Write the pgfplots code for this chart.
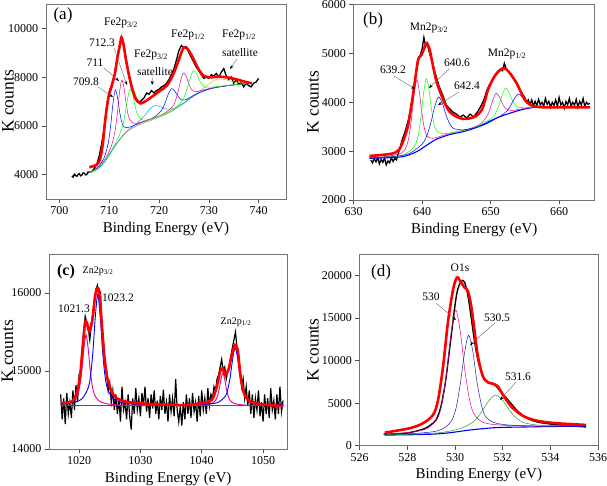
\documentclass[border=0pt]{standalone}
\usepackage{fontspec}
\setmainfont{Liberation Serif}
\usepackage{pgfplots}
\pgfplotsset{compat=1.18}
\usetikzlibrary{arrows.meta}
\definecolor{olivey}{RGB}{190,190,40}
\definecolor{navyb}{RGB}{30,30,150}
\definecolor{dgreen}{RGB}{40,150,40}
\pgfplotsset{xps/.style={scale only axis, anchor=south west,
  axis line style={draw=black!55, line width=0.9pt},
  tick style={black!70, line width=0.5pt}, tick align=outside,
  xtick pos=bottom, ytick pos=left,
  tick label style={font=\fontsize{12}{14}\selectfont},
  x label style={font=\fontsize{15}{17}\selectfont},
  y label style={font=\fontsize{17.5}{19}\selectfont, anchor=center},
  /pgf/number format/assume math mode=true,
  /pgf/number format/set thousands separator={},
  scaled ticks=false,
  xlabel={Binding Energy (eV)}, ylabel={K counts},
  clip=true}}
\tikzset{ann/.style={font=\fontsize{11.5}{13}\selectfont, inner sep=0pt},
  arr/.style={draw=black!60, line width=0.4pt, -{Stealth[black,length=4pt,width=3pt]}}}
\begin{document}
\begin{tikzpicture}[x=1pt,y=1pt]
\path[use as bounding box] (0,0) rectangle (607,485);
% ---------------- (a)
\begin{axis}[xps, at={(46pt,286pt)}, width=240pt, height=195pt,
  xmin=697.3, xmax=745.5, ymin=3000, ymax=11000,
  xtick={700,710,...,740}, ytick={4000,6000,8000,10000},
  y label style={at={(axis description cs:-0.158,0.5)}}]
\addplot[black, line width=1.3pt] coordinates {(702.5,3950)(702.75,3900)(703.0,4020)(703.25,3960)(703.5,3930)(703.75,4010)(704.0,4040)(704.25,3950)(704.5,3980)(704.75,4070)(705.0,4060)(705.25,3990)(705.5,4000)(705.75,4110)(706.0,4090)(706.5,4120)(707.0,4260)(707.5,4420)(708.0,4780)(708.5,5300)(709.0,5950)(709.5,6750)(710.0,7400)(710.5,7700)(711.0,8050)(711.5,8650)(712.0,9250)(712.5,9650)(713.0,9250)(713.5,8600)(714.0,8000)(714.5,7550)(715.0,7200)(715.5,7000)(716.0,6950)(716.5,7050)(717.0,7150)(717.5,7350)(718.0,7300)(718.5,7450)(719.0,7350)(719.5,7450)(720.0,7500)(720.5,7600)(721.0,7650)(721.5,7750)(722.0,7900)(722.5,8100)(723.0,8350)(723.5,8700)(724.0,9100)(724.5,9300)(725.0,9200)(725.5,9250)(726.0,9000)(726.5,8800)(727.0,8600)(727.5,8400)(728.0,8250)(728.5,8100)(729.0,7950)(729.5,8000)(730.0,7950)(730.5,8100)(731.0,8050)(731.5,8150)(732.0,8000)(732.5,8200)(733.0,8350)(733.5,8050)(734.0,7900)(734.5,8000)(735.0,7750)(735.5,7900)(736.0,7700)(736.5,7800)(737.0,7600)(737.5,7750)(738.0,7650)(738.5,7600)(739.0,7750)(739.5,7800)(740.0,7950)};
\addplot[blue!60, line width=0.4pt, smooth] coordinates {(706,4080)(707,4150)(708,4280)(709,4500)(710,4800)(711,5120)(712,5400)(713,5650)(714,5830)(715,5950)(716,6050)(717,6130)(718,6200)(719,6280)(720,6360)(721,6440)(722,6540)(723,6650)(724,6780)(725,6920)(726,7080)(727,7220)(728,7340)(729,7430)(730,7500)(732,7590)(734,7650)(736,7700)(738.6,7750)};
\addplot[olivey, line width=0.5pt, smooth] coordinates {(706,4080)(707,4150)(708,4280)(709,4500)(710,4800)(711,5120)(712,5400)(713,5650)(714,5830)(715,5950)(716,6050)(717,6130)(718,6200)(720,6367)(722,6560)(724,6797)(726,7110)(728,7417)(729.5,7633)(730.75,7825)(732,7925)(733.25,7900)(734.5,7828)(736,7777)(738.6,7782)};
\addplot[cyan, line width=0.5pt, smooth] coordinates {(706,4085)(707,4150)(708,4282)(709,4503)(710,4814)(711,5130)(712,5415)(713,5677)(714,5870)(715,6022)(716,6193)(717,6405)(718,6651)(719,6830)(720,6811)(721,6715)(722,6683)(723,6722)(725,6947)(726,7085)(728,7354)(730,7505)(732,7595)(735,7680)(738.6,7755)};
\addplot[blue, line width=0.5pt, smooth] coordinates {(706,4114)(707,4200)(708,4372)(709,4706)(709.8,5290)(710.3,6045)(710.75,6913)(711.2,7470)(711.65,7178)(712.1,6570)(712.55,6135)(713,5948)(714,5945)(715,6019)(717,6188)(719,6356)(720.5,6640)(721.2,6935)(721.85,7297)(722.5,7530)(723.15,7427)(723.8,7218)(724.5,7069)(725.5,7084)(727,7257)(730,7514)(734,7660)(738.6,7755)};
\addplot[magenta, line width=0.5pt, smooth] coordinates {(706,4104)(707,4210)(708,4327)(709.5,4746)(710.5,5219)(711.15,5772)(711.6,6467)(712.05,7340)(712.5,7884)(712.95,7570)(713.4,6907)(713.85,6412)(714.5,6149)(715.5,6106)(717,6190)(719,6327)(721,6506)(722.7,6785)(723.25,7010)(723.8,7385)(724.35,7871)(724.9,8170)(725.45,8031)(726,7715)(726.55,7480)(727.5,7407)(729,7481)(732,7607)(735,7680)(738.6,7755)};
\addplot[green, line width=0.5pt, smooth] coordinates {(706,4093)(707,4170)(708,4303)(709,4530)(710,4850)(711.5,5368)(712.7,6010)(713.2,6518)(713.7,7137)(714.2,7515)(714.7,7277)(715.2,6803)(715.7,6450)(716.7,6242)(718,6268)(720,6402)(722,6587)(723.5,6784)(724.5,6979)(725.1,7207)(725.7,7553)(726.3,7984)(726.9,8266)(727.5,8154)(728.1,7883)(728.7,7677)(729.3,7589)(731,7598)(734,7665)(738.6,7755)};
\addplot[red, line width=2.6pt, smooth] coordinates {(706.02,4301)(707.51,4412)(708.17,4645)(708.71,5260)(709.18,6216)(709.84,7171)(710.52,7651)(711.18,8196)(711.65,8811)(712.19,9360)(712.45,9631)(712.85,9360)(713.39,8676)(714.06,7991)(714.74,7446)(715.40,7105)(716.20,6925)(716.87,6966)(717.67,7064)(718.88,7241)(720.22,7446)(721.57,7651)(722.89,8130)(723.90,8676)(724.78,9155)(725.24,9221)(725.90,9114)(726.91,8745)(727.91,8335)(728.92,8061)(730.26,7991)(731.93,8020)(733.61,7991)(735.28,7925)(736.95,7827)(738.63,7745)};
\end{axis}
% ---------------- (b)
\begin{axis}[xps, at={(353.7pt,285pt)}, width=241pt, height=195.3pt,
  xmin=630, xmax=665.2, ymin=2000, ymax=6000,
  xtick={630,640,650,660}, ytick={2000,3000,4000,5000,6000},
  y label style={at={(axis description cs:-0.169,0.5)}}]
\addplot[black, line width=1.3pt] coordinates {(632.5,2820)(632.75,2760)(633,2850)(633.25,2780)(633.5,2870)(633.75,2740)(634,2830)(634.25,2770)(634.5,2860)(634.75,2720)(635,2800)(635.25,2760)(635.5,2870)(635.75,2790)(636,2850)(636.25,2820)(636.5,2950)(636.75,3050)(637,3200)(637.5,3400)(638,3650)(638.5,4000)(639,4500)(639.5,4900)(639.75,4980)(640,5100)(640.25,5330)(640.5,5150)(640.75,5200)(641,5050)(641.5,4800)(642,4550)(642.5,4320)(643,4150)(643.5,3950)(644,3870)(644.5,3800)(645,3760)(645.5,3700)(646,3740)(646.5,3680)(647,3760)(647.5,3700)(648,3790)(648.5,3900)(649,4050)(649.5,4270)(650,4400)(650.5,4520)(651,4600)(651.5,4680)(651.75,4650)(652,4800)(652.25,4700)(652.5,4650)(653,4580)(653.5,4450)(654,4350)(654.5,4200)(655,4100)(655.25,4000)(655.5,4050)(655.75,3950)(656,4050)(656.25,3930)(656.5,4020)(656.75,3940)(657,4060)(657.25,3950)(657.5,4000)(657.75,3920)(658,4080)(658.25,3960)(658.5,4020)(658.75,3900)(659,4000)(659.25,3940)(659.5,4050)(659.75,3920)(660,4100)(660.25,3950)(660.5,4000)(660.75,3880)(661,4020)(661.25,3950)(661.5,4080)(661.75,3920)(662,4000)(662.25,3940)(662.5,4060)(662.75,3900)(663,4020)(663.25,3950)(663.5,4080)(663.75,3920)(664,4000)(664.25,3960)(664.5,3980)};
\addplot[blue, line width=1.1pt, smooth] coordinates {(632.3,2854)(635,2866)(637.2,2887)(638,2920)(639.2,2990)(640,3060)(641.1,3162)(642,3240)(643.1,3297)(644,3340)(646,3400)(647,3440)(648.9,3537)(650,3610)(650.8,3674)(652,3740)(652.8,3776)(654,3830)(654.8,3858)(656,3890)(656.7,3899)(660,3908)(664.5,3912)};
\addplot[magenta, line width=0.5pt, smooth] coordinates {(632.3,2863)(635,2894)(637,2966)(637.7,3096)(638.1,3322)(638.45,3680)(638.83,4173)(639.2,4460)(639.58,4225)(639.95,3785)(640.3,3482)(640.7,3311)(641.5,3264)(643,3319)(645,3397)(647,3465)(648.5,3556)(649.45,3713)(649.9,3861)(650.35,4060)(650.8,4186)(651.25,4120)(651.7,3981)(652.15,3881)(653,3831)(654.5,3865)(657,3906)(664.5,3912)};
\addplot[green, line width=0.5pt, smooth] coordinates {(632.3,2860)(635,2884)(637,2912)(638.5,3037)(639.1,3164)(639.5,3386)(639.85,3732)(640.22,4202)(640.6,4484)(640.98,4272)(641.35,3867)(641.7,3581)(642.1,3419)(643,3359)(645,3396)(647,3458)(649,3572)(650.4,3710)(650.85,3817)(651.3,3975)(651.75,4173)(652.2,4295)(652.65,4215)(653.1,4065)(653.55,3952)(654,3900)(655,3889)(657,3910)(664.5,3912)};
\addplot[blue, line width=0.5pt, smooth] coordinates {(632.3,2860)(636,2893)(638,2945)(639.5,3083)(640.2,3180)(640.75,3340)(641.3,3598)(641.85,3922)(642.4,4106)(642.95,3979)(643.5,3733)(644.05,3555)(644.6,3465)(646,3438)(648,3492)(650,3630)(651.5,3723)(652.5,3845)(653,3953)(653.5,4084)(654,4166)(654.5,4126)(655,4030)(655.5,3962)(656,3934)(657.5,3915)(664.5,3912)};
\addplot[red, line width=2.6pt, smooth] coordinates {(632.3,2902)(635.3,2943)(636.5,3010)(637.2,3195)(637.9,3502)(638.4,3912)(638.9,4391)(639.4,4869)(639.9,4971)(640.4,5141)(640.7,5211)(641.1,5074)(641.6,4731)(642.1,4424)(642.7,4186)(643.3,3981)(644.0,3809)(645.0,3707)(646.0,3660)(647.0,3674)(647.9,3721)(648.7,3844)(649.2,4049)(649.6,4254)(650.4,4494)(651.1,4629)(651.8,4699)(652.4,4664)(653.0,4561)(653.8,4391)(654.5,4186)(655.2,4014)(656.2,3926)(657.7,3899)(660.6,3899)(664.5,3899)};
\end{axis}
% ---------------- (c)
\begin{axis}[xps, at={(49.3pt,36pt)}, width=237.7pt, height=195pt,
  xmin=1015.15, xmax=1053.9, ymin=14000, ymax=16500,
  xtick={1020,1030,1040,1050}, ytick={14000,15000,16000},
  y label style={at={(axis description cs:-0.176,0.5)}}]
\addplot[black, line width=1.2pt] coordinates {(1017.00,14700)(1017.25,14380)(1017.50,14650)(1017.75,14320)(1018.00,14720)(1018.25,14450)(1018.50,14600)(1018.75,14400)(1019.00,14750)(1019.25,14500)(1019.50,14820)(1019.75,14600)(1020.00,14950)(1020.25,15000)(1020.50,15250)(1020.75,15500)(1021.00,15700)(1021.25,15620)(1021.50,15550)(1021.75,15400)(1022.00,15600)(1022.25,15750)(1022.50,15900)(1022.75,16050)(1023.00,16100)(1023.25,15950)(1023.50,16000)(1023.75,15500)(1024.00,15350)(1024.25,15050)(1024.50,15000)(1024.75,14750)(1025.00,14850)(1025.25,14600)(1025.50,14750)(1025.75,14500)(1026.00,14700)(1026.25,14450)(1026.50,14650)(1026.75,14350)(1027.00,14800)(1027.25,14500)(1027.50,14600)(1027.75,14380)(1028.00,14700)(1028.25,14420)(1028.50,14250)(1028.75,14650)(1029.00,14450)(1029.25,14780)(1029.50,14500)(1029.75,14650)(1030.00,14420)(1030.25,14720)(1030.50,14550)(1030.75,14800)(1031.00,14480)(1031.25,14650)(1031.50,14400)(1031.75,14700)(1032.00,14520)(1032.25,14750)(1032.50,14450)(1032.75,14620)(1033.00,14380)(1033.25,14680)(1033.50,14500)(1033.75,14760)(1034.00,14450)(1034.25,14600)(1034.50,14350)(1034.75,14700)(1035.00,14480)(1035.25,14650)(1035.50,14420)(1035.75,14900)(1036.00,14500)(1036.25,14350)(1036.50,14550)(1036.75,14300)(1037.00,14600)(1037.25,14380)(1037.50,14700)(1037.75,14450)(1038.00,14650)(1038.25,14400)(1038.50,14720)(1038.75,14480)(1039.00,14600)(1039.25,14350)(1039.50,14680)(1039.75,14420)(1040.00,14750)(1040.25,14500)(1040.50,14650)(1040.75,14450)(1041.00,14780)(1041.25,14550)(1041.50,14700)(1041.75,14650)(1042.00,14800)(1042.25,14750)(1042.50,14900)(1042.75,14950)(1043.00,15050)(1043.25,15150)(1043.50,15000)(1043.75,15050)(1044.00,14900)(1044.25,15000)(1044.50,15050)(1044.75,15200)(1045.00,15300)(1045.25,15400)(1045.50,15500)(1045.75,15300)(1046.00,15150)(1046.25,15050)(1046.50,14800)(1046.75,14900)(1047.00,14650)(1047.25,14800)(1047.50,14550)(1047.75,14750)(1048.00,14450)(1048.25,14700)(1048.50,14400)(1048.75,14650)(1049.00,14500)(1049.25,14750)(1049.50,14420)(1049.75,14600)(1050.00,14350)(1050.25,14700)(1050.50,14450)(1050.75,14650)(1051.00,14400)(1051.25,14780)(1051.50,14500)(1051.75,14620)(1052.00,14380)(1052.25,14700)(1052.50,14450)(1052.75,14800)(1053.00,14480)(1053.25,14620)};
\addplot[magenta, line width=0.9pt] coordinates {(1017,14556)(1053.3,14556)};
\addplot[magenta, line width=0.9pt, smooth] coordinates {(1017,14573)(1019,14615)(1019.8,14701)(1020.12,14809)(1020.46,15010)(1020.8,15293)(1021.14,15464)(1021.48,15293)(1021.82,15010)(1022.16,14809)(1022.5,14701)(1023.2,14620)(1024.5,14580)(1027,14564)(1035,14560)(1040,14564)(1041.6,14584)(1042.24,14622)(1042.54,14672)(1042.84,14764)(1043.14,14894)(1043.44,14972)(1043.74,14894)(1044.04,14764)(1044.34,14672)(1044.64,14622)(1045.3,14584)(1047,14564)(1050,14559)(1053.3,14557)};
\addplot[blue, line width=0.9pt, smooth] coordinates {(1017,14574)(1019,14594)(1020.5,14645)(1021.5,14786)(1021.9,14957)(1022.28,15271)(1022.67,15715)(1023.05,15982)(1023.43,15715)(1023.82,15271)(1024.2,14957)(1024.6,14786)(1025.4,14657)(1027,14596)(1030,14571)(1035,14565)(1040,14574)(1042.5,14593)(1043.85,14677)(1044.25,14766)(1044.65,14929)(1045.05,15159)(1045.45,15298)(1045.85,15159)(1046.25,14929)(1046.65,14766)(1047.05,14677)(1048,14606)(1050,14575)(1053.3,14568)};
\addplot[red, line width=2.6pt, smooth] coordinates {(1017.18,14587)(1018.81,14608)(1019.62,14715)(1020.16,14929)(1020.6,15314)(1020.98,15615)(1021.26,15622)(1021.68,15507)(1022.17,15657)(1022.61,15956)(1022.99,16064)(1023.31,16000)(1023.7,15615)(1024.13,15186)(1024.68,14886)(1025.6,14694)(1026.97,14620)(1029.67,14587)(1035.66,14565)(1038.1,14565)(1040.28,14595)(1041.65,14629)(1042.46,14800)(1043.0,14993)(1043.44,15037)(1043.8,14951)(1044.36,15015)(1044.9,15207)(1045.45,15336)(1045.9,15250)(1046.26,14972)(1046.8,14736)(1047.6,14629)(1049.5,14574)(1053.3,14552)};
\end{axis}
% ---------------- (d)
\begin{axis}[xps, at={(359.7pt,39.3pt)}, width=238.3pt, height=191.7pt,
  xmin=526, xmax=536, ymin=0, ymax=22500,
  xtick={526,528,...,536}, ytick={0,5000,10000,15000,20000},
  y label style={at={(axis description cs:-0.196,0.5)}}]
\addplot[black, line width=1.4pt, smooth] coordinates {(527.0,1350)(527.5,1400)(528,1500)(528.5,1800)(528.8,2100)(529.0,2500)(529.2,3000)(529.4,4500)(529.6,7500)(529.8,12000)(530.0,16500)(530.1,18200)(530.2,19000)(530.3,19400)(530.35,19350)(530.4,19200)(530.5,18200)(530.6,16600)(530.7,14600)(530.8,12600)(530.9,10900)(531.0,9600)(531.1,8700)(531.2,8050)(531.3,7650)(531.4,7450)(531.5,7350)(531.6,7200)(531.7,7050)(531.8,6750)(531.9,6350)(532.0,6050)(532.1,5800)(532.2,5450)(532.3,5100)(532.4,4800)(532.5,4450)(532.6,4150)(532.8,3650)(533.0,3250)(533.3,2900)(533.6,2700)(534,2550)(534.5,2400)(535,2300)(535.5,2200)};
\addplot[blue, line width=1.1pt, smooth] coordinates {(527.05,1250)(528,1280)(529,1350)(529.5,1440)(530,1600)(530.5,1800)(531,1950)(531.5,2080)(532,2150)(533,2200)(534,2250)(535.5,2300)};
\addplot[magenta, line width=0.5pt, smooth] coordinates {(527.05,1365)(528,1537)(528.8,1992)(529.27,3239)(529.46,5138)(529.65,8630)(529.84,13266)(530.03,15900)(530.22,13406)(530.41,8900)(530.6,5548)(530.79,3749)(531.2,2715)(532,2407)(533.5,2306)(535.5,2350)};
\addplot[navyb, line width=0.5pt, smooth] coordinates {(527.05,1306)(528.5,1477)(529.2,1705)(529.6,2185)(529.87,3000)(530.05,4500)(530.22,7255)(530.4,10883)(530.57,12960)(530.75,11023)(530.92,7505)(531.1,4880)(531.27,3470)(531.6,2749)(532.2,2439)(533.5,2309)(535.5,2330)};
\addplot[dgreen, line width=0.5pt, smooth] coordinates {(527.05,1281)(528.5,1379)(529.5,1574)(530.3,2085)(530.8,2890)(531.1,3905)(531.4,5207)(531.7,5940)(532.0,5307)(532.3,4095)(532.6,3185)(532.9,2695)(533.5,2413)(534.5,2356)(535.5,2350)};
\addplot[red, line width=2.6pt, smooth] coordinates {(527.05,1533)(528.1,2051)(528.66,2641)(529.08,3620)(529.29,5388)(529.5,9314)(529.7,14431)(529.92,18357)(530.08,19736)(530.22,19336)(530.4,18557)(530.54,18157)(530.68,16388)(530.83,13252)(530.96,10493)(531.17,8135)(531.38,7428)(531.59,7274)(531.8,6956)(532.01,5978)(532.36,4598)(532.85,3502)(533.41,2948)(534.25,2641)(535.5,2441)};
\end{axis}
% ---------------- annotations (a)
\node[ann, font=\fontsize{17}{19}\selectfont] at (63,470) {(a)};
\node[ann] at (121,462) {Fe2p\textsubscript{3/2}};
\node[ann] at (102,442) {712.3};
\node[ann] at (95,422) {711};
\node[ann] at (86,403) {709.8};
\node[ann] at (151,430) {Fe2p\textsubscript{3/2}};
\node[ann] at (155,413) {satellite};
\node[ann] at (188,450) {Fe2p\textsubscript{1/2}};
\node[ann] at (239,450) {Fe2p\textsubscript{1/2}};
\node[ann] at (240,432) {satellite};
\draw[arr] (98,398) -- (113,388);
\draw[arr] (104,417) -- (119,404);
\draw[arr] (114,437) -- (127,400);
\draw[arr] (153,408) -- (152,400);
\draw[arr] (237,426) -- (230,416);
% (b)
\node[ann, font=\fontsize{17}{19}\selectfont] at (373,465) {(b)};
\node[ann] at (429,457) {Mn2p\textsubscript{3/2}};
\node[ann] at (393,415) {639.2};
\node[ann] at (457,422) {640.6};
\node[ann] at (467,399) {642.4};
\node[ann] at (507,431) {Mn2p\textsubscript{1/2}};
\draw[arr] (394,409) -- (415,396);
\draw[arr] (449,416) -- (429,397);
\draw[arr] (459,393) -- (438,380);
% (c)
\node[ann, font=\bfseries\fontsize{16}{18}\selectfont] at (66,213) {(c)};
\node[ann, font=\fontsize{10}{12}\selectfont] at (98,214) {Zn2p\textsubscript{3/2}};
\node[ann] at (74,176) {1021.3};
\node[ann] at (118,187) {1023.2};
\node[ann, font=\fontsize{10}{12}\selectfont] at (236,163) {Zn2p\textsubscript{1/2}};
% (d)
\node[ann, font=\fontsize{17}{19}\selectfont] at (381,213) {(d)};
\node[ann] at (460,217) {O1s};
\node[ann] at (431,188) {530};
\node[ann] at (497,167) {530.5};
\node[ann] at (518,108) {531.6};
\draw[arr] (436,182) -- (456,165);
\draw[arr] (495,162) -- (470,140);
\draw[arr] (516,103) -- (500,85);
\end{tikzpicture}
\end{document}
